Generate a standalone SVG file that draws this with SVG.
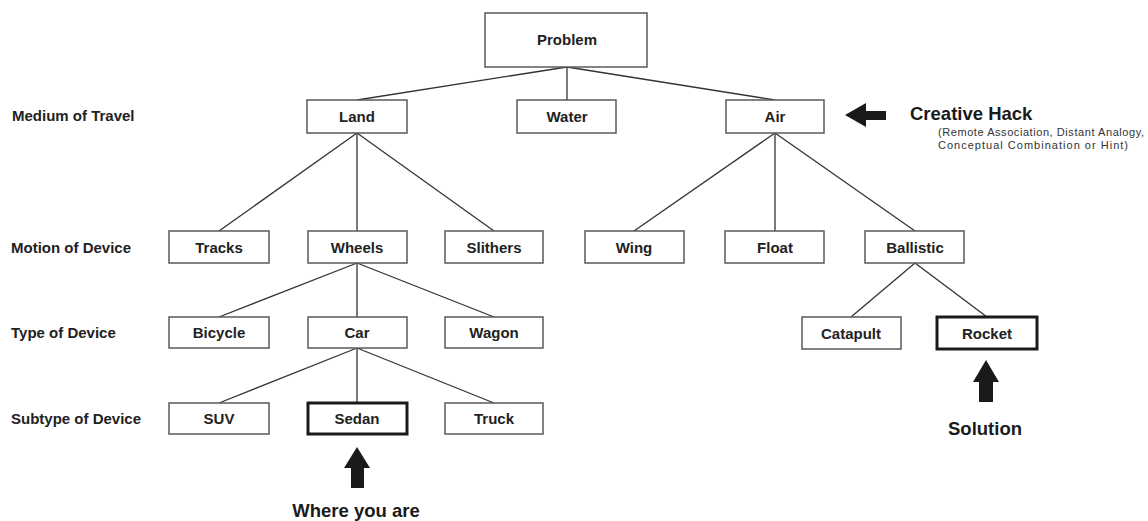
<svg xmlns="http://www.w3.org/2000/svg" width="1148" height="521" viewBox="0 0 1148 521">
<style>
.box{fill:#fff;stroke:#5a5a5a;stroke-width:1.5}
.hl{fill:#fff;stroke:#1a1a1a;stroke-width:3}
.lbl{font-family:"Liberation Sans",Arial,sans-serif;font-weight:bold;font-size:15px;fill:#222;text-anchor:middle}
.row{font-family:"Liberation Sans",Arial,sans-serif;font-weight:bold;font-size:15px;fill:#222}
.big{font-family:"Liberation Sans",Arial,sans-serif;font-weight:bold;font-size:18.5px;fill:#1a1a1a}
.small{font-family:"Liberation Sans",Arial,sans-serif;font-size:11px;fill:#333}
.con line{stroke:#333;stroke-width:1.3}
.arr{fill:#1a1a1a}
</style>
<rect width="1148" height="521" fill="#fff"/>
<g class="con">
<line x1="567" y1="67" x2="357" y2="100"/>
<line x1="567" y1="67" x2="567" y2="100"/>
<line x1="567" y1="67" x2="775" y2="100"/>
<line x1="357" y1="133" x2="219" y2="231"/>
<line x1="357" y1="133" x2="357" y2="231"/>
<line x1="357" y1="133" x2="494" y2="231"/>
<line x1="775" y1="133" x2="634" y2="231"/>
<line x1="775" y1="133" x2="775" y2="231"/>
<line x1="775" y1="133" x2="915" y2="231"/>
<line x1="357" y1="263" x2="219" y2="317"/>
<line x1="357" y1="263" x2="357" y2="317"/>
<line x1="357" y1="263" x2="494" y2="317"/>
<line x1="915" y1="263" x2="851" y2="317"/>
<line x1="915" y1="263" x2="987" y2="317"/>
<line x1="357" y1="348" x2="219" y2="403"/>
<line x1="357" y1="348" x2="357" y2="403"/>
<line x1="357" y1="348" x2="494" y2="403"/>
</g>
<g id="problem"><rect class="box" x="485" y="13" width="162" height="54"/><text class="lbl" x="567" y="45">Problem</text></g>
<g id="land"><rect class="box" x="307" y="100" width="100" height="33"/><text class="lbl" x="357" y="122">Land</text></g>
<g id="water"><rect class="box" x="517" y="100" width="99" height="33"/><text class="lbl" x="567" y="122">Water</text></g>
<g id="air"><rect class="box" x="726" y="100" width="98" height="33"/><text class="lbl" x="775" y="122">Air</text></g>
<g id="tracks"><rect class="box" x="169" y="231" width="100" height="32"/><text class="lbl" x="219" y="253">Tracks</text></g>
<g id="wheels"><rect class="box" x="308" y="231" width="99" height="32"/><text class="lbl" x="357" y="253">Wheels</text></g>
<g id="slithers"><rect class="box" x="445" y="231" width="98" height="32"/><text class="lbl" x="494" y="253">Slithers</text></g>
<g id="wing"><rect class="box" x="585" y="231" width="99" height="32"/><text class="lbl" x="634" y="253">Wing</text></g>
<g id="float"><rect class="box" x="725" y="231" width="99" height="32"/><text class="lbl" x="775" y="253">Float</text></g>
<g id="ballistic"><rect class="box" x="865" y="231" width="99" height="32"/><text class="lbl" x="915" y="253">Ballistic</text></g>
<g id="bicycle"><rect class="box" x="169" y="317" width="100" height="31"/><text class="lbl" x="219" y="338">Bicycle</text></g>
<g id="car"><rect class="box" x="308" y="317" width="99" height="31"/><text class="lbl" x="357" y="338">Car</text></g>
<g id="wagon"><rect class="box" x="445" y="317" width="98" height="31"/><text class="lbl" x="494" y="338">Wagon</text></g>
<g id="catapult"><rect class="box" x="802" y="317" width="99" height="32"/><text class="lbl" x="851" y="339">Catapult</text></g>
<g id="rocket"><rect class="hl" x="937" y="317" width="100" height="32"/><text class="lbl" x="987" y="339">Rocket</text></g>
<g id="suv"><rect class="box" x="169" y="403" width="100" height="31"/><text class="lbl" x="219" y="424">SUV</text></g>
<g id="sedan"><rect class="hl" x="308" y="403" width="99" height="31"/><text class="lbl" x="357" y="424">Sedan</text></g>
<g id="truck"><rect class="box" x="445" y="403" width="98" height="31"/><text class="lbl" x="494" y="424">Truck</text></g>
<g id="row-labels">
<text class="row" x="12" y="121">Medium of Travel</text>
<text class="row" x="11" y="253">Motion of Device</text>
<text class="row" x="11" y="338">Type of Device</text>
<text class="row" x="11" y="424">Subtype of Device</text>
</g>
<g id="creative-hack">
<polygon class="arr" points="845,115 866,103 866,111 886,111 886,120 866,120 866,127"/>
<text class="big" x="910" y="120">Creative Hack</text>
<text class="small" x="938" y="136" textLength="206" lengthAdjust="spacing">(Remote Association, Distant Analogy,</text>
<text class="small" x="938" y="149" textLength="190" lengthAdjust="spacing">Conceptual Combination or Hint)</text>
</g>
<g id="where-you-are">
<polygon class="arr" points="357,447 370,468 364,468 364,488 351,488 351,468 344,468"/>
<text class="big" x="356" y="517" text-anchor="middle">Where you are</text>
</g>
<g id="solution">
<polygon class="arr" points="986,360 999,382 993,382 993,402 979,402 979,382 973,382"/>
<text class="big" x="985" y="435" text-anchor="middle">Solution</text>
</g>
</svg>
